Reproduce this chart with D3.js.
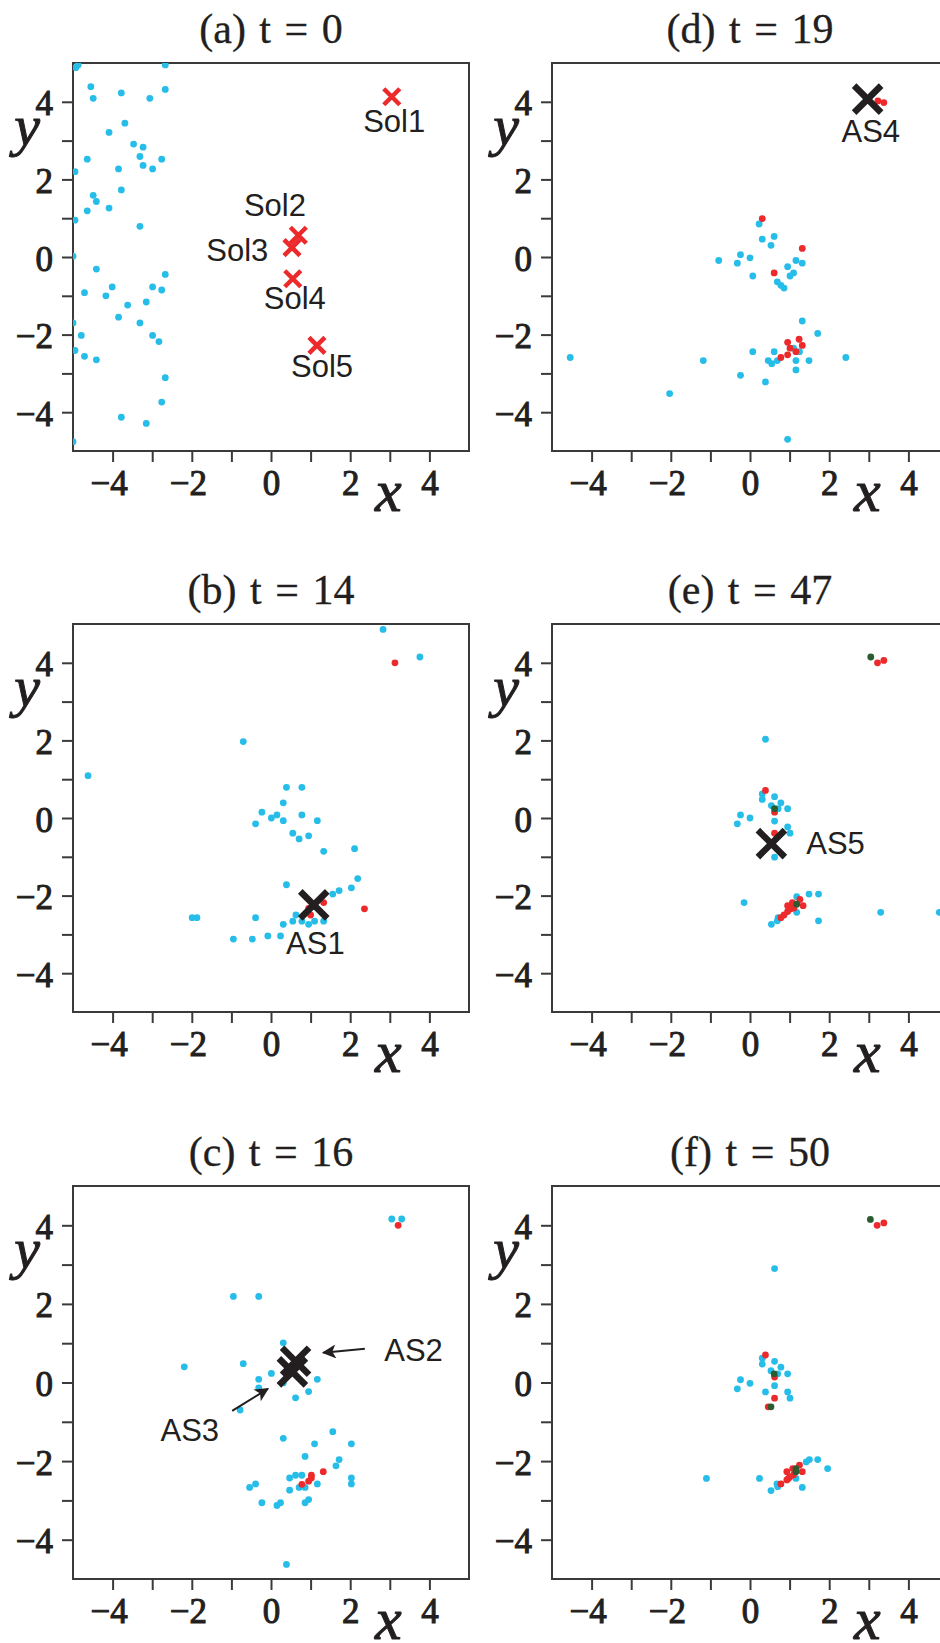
<!DOCTYPE html>
<html><head><meta charset="utf-8">
<script src="https://cdn.jsdelivr.net/npm/d3@7"></script>
<style>html,body{margin:0;padding:0;background:#fff;overflow:hidden}</style>
</head><body><svg id="chart" width="940" height="1643"></svg>
<script>
// ---------------- data ----------------
const tickValues = [-4,-3,-2,-1,0,1,2,3,4];
const titles = ["(a) t = 0","(b) t = 14","(c) t = 16","(d) t = 19","(e) t = 47","(f) t = 50"];

const cyanA = [[-4.93,4.88],[-4.87,4.95],[-2.67,4.95],[-4.55,4.39],[-4.49,4.09],[-3.78,4.23],[-3.06,4.09],[-2.67,4.32],
 [-3.69,3.45],[-4.09,3.21],[-3.47,2.91],[-3.23,2.83],[-4.64,2.52],[-3.31,2.59],[-3.23,2.36],[-2.76,2.52],[-3.85,2.27],
 [-2.99,2.27],[-4.95,2.20],[-3.78,1.73],[-4.49,1.59],[-4.41,1.43],[-4.64,1.19],[-4.09,1.26],[-4.95,0.95],[-3.31,0.79],
 [-5.0,0.02],[-4.41,-0.31],[-2.67,-0.45],[-4.01,-0.77],[-4.71,-0.92],[-4.17,-1.0],[-2.99,-0.77],[-2.76,-0.85],
 [-3.62,-1.24],[-3.15,-1.16],[-3.85,-1.55],[-3.31,-1.70],[-5.0,-1.70],[-4.79,-2.02],[-2.99,-2.02],[-2.83,-2.18],
 [-4.95,-2.41],[-4.71,-2.56],[-4.41,-2.65],[-2.67,-3.11],[-2.76,-3.74],[-3.78,-4.13],[-3.15,-4.29],[-5.0,-4.76]];
const solutions = [[3.05,4.13],[0.69,0.56],[0.53,0.24],[0.55,-0.56],[1.16,-2.28]];
const solNames = ["Sol1","Sol2","Sol3","Sol4","Sol5"];
const solLabelPos = [[3.11,3.23],[0.10,1.05],[-0.85,-0.10],[0.60,-1.33],[1.29,-3.09]];

const cyanB = [[2.83,4.86],[3.76,4.15],[-4.62,1.09],[-0.70,1.97],[0.39,0.79],[0.78,0.79],[0.31,0.39],[-0.23,0.15],
 [0.01,0],[0.15,0.08],[0.78,0.08],[0.31,-0.07],[1.17,-0.07],[-0.39,-0.15],[0.55,-0.39],[0.71,-0.54],[0.95,-0.46],
 [1.33,-0.86],[2.11,-0.79],[0.39,-1.72],[2.19,-1.56],[2.03,-1.80],[1.72,-1.87],[1.56,-1.96],[-1.99,-2.57],[-1.87,-2.57],
 [-0.39,-2.57],[0.31,-2.74],[0.55,-2.66],[0.63,-2.50],[0.78,-2.66],[0.95,-2.74],[1.10,-2.66],[1.33,-2.66],
 [-0.95,-3.12],[-0.47,-3.12],[-0.08,-3.04],[0.24,-3.04]];
const redB = [[3.13,4.0],[2.36,-2.34],[1.33,-2.18],[0.95,-2.33],[1.0,-2.5]];

const cyanC = [[3.05,4.16],[3.30,4.16],[-0.95,2.19],[-0.31,2.19],[-2.19,0.40],[-0.70,0.48],[0.31,1.01],[0.01,0.23],
 [-0.31,0.08],[-0.31,-0.14],[0.31,-0.01],[1.17,0.08],[0.62,-0.39],[0.95,-0.23],[-0.78,-0.70],[0.31,-1.42],[1.56,-1.25],
 [1.10,-1.56],[2.03,-1.56],[0.86,-1.88],[1.72,-1.96],[1.64,-2.12],[0.47,-2.43],[0.62,-2.36],[0.78,-2.36],[0.71,-2.67],
 [0.86,-2.67],[1.17,-2.58],[2.03,-2.43],[2.03,-2.58],[-0.54,-2.67],[-0.39,-2.58],[0.47,-2.74],[-0.23,-3.06],
 [0.15,-3.13],[0.24,-3.06],[0.86,-3.06],[0.95,-2.98],[0.39,-4.63]];
const redC = [[3.21,4.0],[1.32,-2.27],[1.02,-2.36],[0.95,-2.51],[0.78,-2.59],[1.02,-2.43]];

const cyanD = [[-4.54,-2.59],[-2.03,-3.52],[-1.18,-2.67],[-0.24,-3.05],[0.07,-2.44],[0.39,-3.22],[0.46,-2.67],[0.55,-2.75],
 [0.61,-2.44],[0.69,-2.67],[1.10,-2.35],[1.25,-2.44],[1.16,-2.67],[1.16,-2.91],[1.49,-2.67],[2.42,-2.59],[1.32,-1.65],
 [1.71,-1.97],[0.95,-4.70],[0.23,0.85],[0.31,0.46],[0.61,0.53],[0.53,0.30],[-0.79,-0.09],[-0.24,0.06],[-0.32,-0.16],
 [0,-0.02],[0.07,-0.49],[0.95,-0.25],[1.16,-0.09],[1.32,-0.16],[1.01,-0.49],[1.10,-0.41],[0.69,-0.64],[0.78,-0.73],[0.86,-0.80]];
const redD = [[3.23,4.02],[3.38,3.98],[0.31,0.99],[1.32,0.22],[0.61,-0.41],[0.95,-2.20],[1.24,-2.12],[1.32,-2.28],
 [1.01,-2.35],[1.16,-2.44],[0.95,-2.52],[0.78,-2.59]];

const cyanE = [[0.39,2.03],[0.31,0.62],[0.31,0.48],[0.62,0.55],[0.78,0.39],[0.54,0.32],[0.71,0.24],[0.95,0.24],
 [-0.24,0.08],[0,0],[-0.32,-0.15],[0.62,-0.08],[0.95,-0.23],[1.01,-0.39],[0.62,-1.01],[-0.15,-2.18],[1.18,-2.03],
 [1.49,-1.96],[1.73,-1.96],[1.18,-2.43],[1.73,-2.65],[0.54,-2.74],[0.71,-2.57],[0.69,-2.65],[3.30,-2.43],[4.78,-2.43]];
const redE = [[3.22,4.0],[3.38,4.06],[0.39,0.71],[0.62,0.15],[0.62,-0.39],[0.95,-2.26],[1.07,-2.18],[1.26,-2.10],
 [1.34,-2.26],[0.95,-2.41],[1.03,-2.34],[0.86,-2.50],[0.78,-2.57],[1.11,-2.32]];
const greenE = [[3.05,4.15],[0.62,0.24],[1.18,-2.22]];

const cyanF = [[0.62,2.90],[0.31,0.62],[0.31,0.47],[0.62,0.54],[0.78,0.39],[0.53,0.30],[0.70,0.22],[0.95,0.22],
 [-0.24,0.07],[0,-0.02],[-0.32,-0.16],[0.62,-0.08],[0.39,-0.24],[0.95,-0.24],[1.01,-0.40],[-1.10,-2.44],[0.24,-2.44],
 [0.53,-2.75],[0.70,-2.65],[0.68,-2.58],[1.32,-2.67],[1.16,-2.44],[1.42,-2.02],[1.50,-1.96],[1.71,-1.96],[1.96,-2.19]];
const redF = [[3.21,4.0],[3.38,4.06],[0.39,0.70],[0.62,0.14],[0.62,-0.40],[0.46,-0.62],[0.93,-2.27],[1.08,-2.19],
 [1.25,-2.10],[1.32,-2.27],[0.93,-2.48],[1.01,-2.40],[1.10,-2.35],[0.78,-2.58],[0.97,-2.44]];
const greenF = [[3.04,4.15],[0.61,0.22],[0.53,-0.62],[1.16,-2.19],[1.16,-2.27]];

// archived solutions (black crosses)
const asB = [[1.08,-2.24]], asBNames = ["AS1"], asBLabel = [[1.12,-3.51]];
const asC = [[0.62,0.54],[0.54,0.27]], asCNames = ["AS2","AS3"], asCLabel = [[3.60,0.55],[-2.05,-1.48]];
const arrowsC = [[[2.37,0.86],[1.32,0.76]],[[-0.98,-0.72],[-0.08,-0.16]]];
const asD = [[2.97,4.07]], asDNames = ["AS4"], asDLabel = [[3.05,2.97]];
const asE = [[0.54,-0.66]], asENames = ["AS5"], asELabel = [[2.16,-0.93]];

// ---------------- layout / style ----------------
const colLeft = [73, 552], rowTop = [63, 624, 1186], rowH = [388, 388, 393], panelW = 396;
const C = {cyan:"#27bde9", red:"#ec2a2c", green:"#2b5c2f", ink:"#231f20", frame:"#3a3a3a"};
const serif = "'Liberation Serif','Times New Roman',serif";
const sans = "'Liberation Sans',Arial,sans-serif";

const panels = [
 {t:0,c:0,r:0,cyan:cyanA,red:[],green:[],sol:solutions,solNames,solLabelPos},
 {t:1,c:0,r:1,cyan:cyanB,red:redB,green:[],as:asB,asNames:asBNames,asLabel:asBLabel},
 {t:2,c:0,r:2,cyan:cyanC,red:redC,green:[],as:asC,asNames:asCNames,asLabel:asCLabel,arrows:arrowsC},
 {t:3,c:1,r:0,cyan:cyanD,red:redD,green:[],as:asD,asNames:asDNames,asLabel:asDLabel},
 {t:4,c:1,r:1,cyan:cyanE,red:redE,green:greenE,as:asE,asNames:asENames,asLabel:asELabel},
 {t:5,c:1,r:2,cyan:cyanF,red:redF,green:greenF}
];

const svg = d3.select("#chart");
svg.append("rect").attr("width",940).attr("height",1643).attr("fill","#fff");
const defs = svg.append("defs");
defs.append("marker").attr("id","arr").attr("viewBox","0 0 10 10").attr("refX",9).attr("refY",5)
  .attr("markerWidth",16).attr("markerHeight",14).attr("orient","auto").attr("markerUnits","userSpaceOnUse")
  .append("path").attr("d","M0,0 L10,5 L0,10 L2.5,5 Z").attr("fill",C.ink);

const fmt = d => (d < 0 ? "\u2212" + Math.abs(d) : String(d));

panels.forEach((p, i) => {
  const left = colLeft[p.c], top = rowTop[p.r], h = rowH[p.r];
  const x = d3.scaleLinear().domain([-5,5]).range([left, left + panelW]);
  const y = d3.scaleLinear().domain([-5,5]).range([top + h, top]);
  const g = svg.append("g");

  defs.append("clipPath").attr("id","clip"+i).append("rect")
    .attr("x",left).attr("y",top).attr("width",panelW).attr("height",h);

  // title
  g.append("text").attr("x", x(0)).attr("y", top - 20).attr("text-anchor","middle")
    .attr("font-family",serif).attr("font-size",42).attr("word-spacing",3).attr("fill",C.ink)
    .attr("stroke",C.ink).attr("stroke-width",0.3)
    .text(titles[p.t]);

  // axes
  const xa = g.append("g").attr("transform",`translate(0,${top+h})`)
    .call(d3.axisBottom(x).tickValues(tickValues).tickSize(11).tickFormat(d => d % 2 === 0 ? fmt(d) : ""));
  const ya = g.append("g").attr("transform",`translate(${left},0)`)
    .call(d3.axisLeft(y).tickValues(tickValues).tickSize(11).tickFormat(d => d % 2 === 0 ? fmt(d) : ""));
  [xa, ya].forEach(a => {
    a.select(".domain").remove();
    a.selectAll(".tick line").attr("stroke",C.frame).attr("stroke-width",2);
    a.selectAll(".tick text").attr("font-family",serif).attr("font-size",35).attr("fill",C.ink)
      .attr("stroke",C.ink).attr("stroke-width",1.0);
  });
  xa.selectAll(".tick text").attr("y",44).attr("dy",0).attr("dx", d => d < 0 ? -4 : 0);
  ya.selectAll(".tick text").attr("x",-20).attr("dy",13).attr("text-anchor","end");

  // frame
  g.append("rect").attr("x",left).attr("y",top).attr("width",panelW).attr("height",h)
    .attr("fill","none").attr("stroke",C.frame).attr("stroke-width",2);

  // axis letters
  g.append("text").attr("x", x(2.96)).attr("y", top + h + 60).attr("text-anchor","middle")
    .attr("font-family",serif).attr("font-style","italic").attr("font-size",60).attr("fill",C.ink)
    .attr("stroke",C.ink).attr("stroke-width",1).text("x");
  g.append("text").attr("x", left - 46).attr("y", top + 82).attr("text-anchor","middle")
    .attr("font-family",serif).attr("font-style","italic").attr("font-size",58).attr("fill",C.ink)
    .attr("stroke",C.ink).attr("stroke-width",1).text("y");

  const plot = g.append("g").attr("clip-path",`url(#clip${i})`);
  const dots = (arr, col) => plot.append("g").selectAll("circle").data(arr).join("circle")
    .attr("cx", d => x(d[0])).attr("cy", d => y(d[1])).attr("r", 3.4).attr("fill", col);
  dots(p.cyan, C.cyan);
  dots(p.red, C.red);
  dots(p.green, C.green);

  const cross = (arr, s, w, col) => plot.append("g").selectAll("path").data(arr).join("path")
    .attr("d", d => { const cx = x(d[0]), cy = y(d[1]);
      return `M${cx-s},${cy-s}L${cx+s},${cy+s}M${cx-s},${cy+s}L${cx+s},${cy-s}`; })
    .attr("stroke", col).attr("stroke-width", w).attr("fill","none");

  if (p.sol) {
    cross(p.sol, 8, 4.5, C.red);
    g.append("g").selectAll("text").data(p.solNames).join("text")
      .attr("x",(d,k)=>x(p.solLabelPos[k][0])).attr("y",(d,k)=>y(p.solLabelPos[k][1]))
      .attr("text-anchor","middle").attr("font-family",sans).attr("font-size",31).attr("fill",C.ink).text(d=>d);
  }
  if (p.as) {
    cross(p.as, 13.5, 6.5, C.ink);
    g.append("g").selectAll("text").data(p.asNames).join("text")
      .attr("x",(d,k)=>x(p.asLabel[k][0])).attr("y",(d,k)=>y(p.asLabel[k][1]))
      .attr("text-anchor","middle").attr("font-family",sans).attr("font-size",31).attr("fill",C.ink).text(d=>d);
  }
  if (p.arrows) {
    g.append("g").selectAll("line").data(p.arrows).join("line")
      .attr("x1",d=>x(d[0][0])).attr("y1",d=>y(d[0][1])).attr("x2",d=>x(d[1][0])).attr("y2",d=>y(d[1][1]))
      .attr("stroke",C.ink).attr("stroke-width",2).attr("marker-end","url(#arr)");
  }
});
</script></body></html>
